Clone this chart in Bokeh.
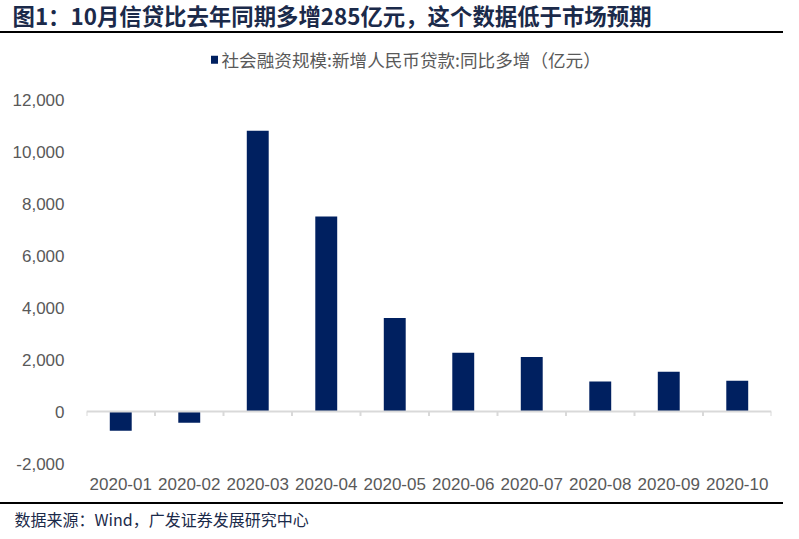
import numpy as np
from bokeh.plotting import figure
from bokeh.layouts import column
from bokeh.models import Range1d, FixedTicker, NumeralTickFormatter, Span, Title, Div
from bokeh.core.properties import value
from bokeh.embed import file_html
from bokeh.resources import INLINE

# ---------------- data ----------------
months = ["2020-01", "2020-02", "2020-03", "2020-04", "2020-05",
          "2020-06", "2020-07", "2020-08", "2020-09", "2020-10"]
yoy_increase = [-740, -430, 10800, 7500, 3600, 2260, 2100, 1150, 1530, 1180]
y_ticks = [-2000, 0, 2000, 4000, 6000, 8000, 10000, 12000]
title_text = "图1：10月信贷比去年同期多增285亿元，这个数据低于市场预期"
legend_text = "社会融资规模:新增人民币贷款:同比多增（亿元）"
source_text = "数据来源：Wind，广发证券发展研究中心"

BAR = "#002060"
GREY = "#595959"
NAVY_TXT = "#1B2A4A"
CJK = "Noto Sans CJK SC"
LAT = "Liberation Sans"

W = 783
FL, FR = 86, 771            # frame left / right (px)
BL, BR = FL, W - FR


def blank(height, top=0, bottom=0):
    f = figure(width=W, height=height, x_range=Range1d(0, 1), y_range=Range1d(0, 1),
               x_axis_location=None, y_axis_location=None, toolbar_location=None,
               output_backend="svg", min_border_left=BL, min_border_right=BR,
               min_border_top=top, min_border_bottom=bottom,
               outline_line_color=None)
    f.grid.visible = False
    return f


def rule():
    return Div(text="", width=W, height=2, margin=(0, 0, 0, 0),
               styles={"background-color": "black"})


# ---------------- header: title ----------------
header = blank(31, top=30)
header.add_layout(Title(text=title_text, align="left", offset=-74, standoff=0,
                        vertical_align="middle", text_font=CJK, text_font_size="22.4px",
                        text_font_style="bold", text_color=NAVY_TXT), "above")

# ---------------- legend strip ----------------
leg = figure(width=W, height=42, x_range=Range1d(FL, FR), y_range=Range1d(75, 33),
             x_axis_location=None, y_axis_location=None, toolbar_location=None,
             output_backend="svg", min_border_left=BL, min_border_right=BR,
             min_border_top=0, min_border_bottom=0, outline_line_color=None)
leg.grid.visible = False
leg.rect(x=[214], y=[59.2], width=7, height=8, fill_color=BAR, line_color=None)
leg.text(x=[221], y=[59.2], text=[legend_text], text_font=value(CJK),
         text_font_size="17.6px", text_color=GREY, text_baseline="middle")

# ---------------- main chart ----------------
n = len(months)
xs = np.arange(n) + 0.5
p = figure(width=W, height=427, x_range=Range1d(0, n), y_range=Range1d(-2000, 12000),
           toolbar_location=None, output_backend="svg",
           min_border_left=BL, min_border_right=BR, min_border_top=24,
           min_border_bottom=39, outline_line_color=None)
p.grid.visible = False

p.vbar(x=xs, top=yoy_increase, width=0.32, fill_color=BAR, line_color=None)

p.add_layout(Span(location=0, dimension="width", line_color="#d9d9d9", line_width=2))
bounds = np.arange(n + 1)
p.segment(x0=bounds, y0=np.zeros(n + 1), x1=bounds, y1=np.full(n + 1, -170),
          line_color="#d9d9d9", line_width=2)

p.yaxis.ticker = FixedTicker(ticks=y_ticks)
p.yaxis.formatter = NumeralTickFormatter(format="0,0")
p.yaxis.axis_line_color = None
p.yaxis.major_tick_line_color = None
p.yaxis.minor_tick_line_color = None
p.yaxis.major_label_standoff = 16
p.yaxis.major_label_text_font = LAT
p.yaxis.major_label_text_font_size = "17px"
p.yaxis.major_label_text_color = GREY

p.xaxis.ticker = FixedTicker(ticks=list(xs))
p.xaxis.major_label_overrides = {float(x): m for x, m in zip(xs, months)}
p.xaxis.axis_line_color = None
p.xaxis.major_tick_line_color = None
p.xaxis.minor_tick_line_color = None
p.xaxis.major_label_standoff = 8
p.xaxis.major_label_text_font = LAT
p.xaxis.major_label_text_font_size = "17px"
p.xaxis.major_label_text_color = GREY

# ---------------- footer: source ----------------
footer = blank(27, bottom=21)
footer.add_layout(Title(text=source_text, align="left", offset=-72, standoff=0,
                        vertical_align="middle", text_font=CJK, text_font_size="16px",
                        text_font_style="normal", text_color=NAVY_TXT), "below")

layout = column(header, rule(), leg, p, rule(), footer, spacing=0)
open("out.html", "w").write(file_html(layout, INLINE))
